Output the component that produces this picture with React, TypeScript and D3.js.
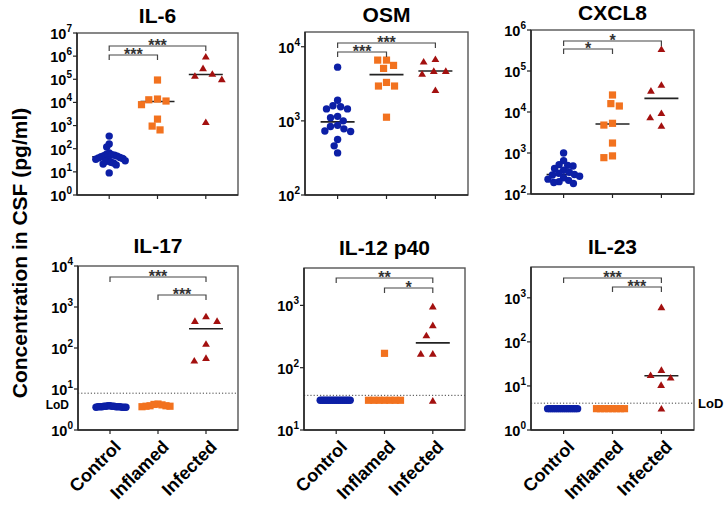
import React from 'react';
import * as d3 from 'd3';

const groups = ['Control', 'Inflamed', 'Infected'];

// IL-6
const il6Control = [350, 160, 120, 65, 58, 55, 52, 50, 48, 45, 42, 40, 38, 35, 33, 30, 28, 26, 24, 22, 20, 9];
const il6Inflamed = [93000, 14000, 13000, 11500, 8000, 1900, 950, 650];
const il6Infected = [950000, 300000, 170000, 140000, 100000, 1400];
const il6Medians = [45, 11000, 160000];
const il6Ticks = [0, 1, 2, 3, 4, 5, 6, 7];
const il6Domain = [1, 1e7];

// OSM
const osmControl = [5300, 1900, 1550, 1450, 1450, 1600, 1150, 1100, 1000, 870, 840, 780, 730, 720, 560, 460, 370];
const osmInflamed = [6600, 6600, 5600, 5100, 3300, 2950, 2950, 1120];
const osmInfected = [6800, 6300, 4700, 4700, 4300, 2600];
const osmMedians = [970, 4200, 4700];
const osmTicks = [2, 3, 4];
const osmDomain = [100, 15800];

// CXCL8
const cxcl8Control = [1000, 650, 520, 500, 480, 420, 380, 340, 320, 300, 290, 270, 250, 230, 215, 200, 190, 180];
const cxcl8Inflamed = [26000, 16000, 14000, 5300, 4800, 1750, 850, 770];
const cxcl8Infected = [340000, 46000, 33000, 9400, 7400, 4600];
const cxcl8Medians = [300, 5100, 21500];
const cxcl8Ticks = [2, 3, 4, 5, 6];
const cxcl8Domain = [100, 1e6];

// IL-17
const il17Control = [3.9, 3.8, 3.7, 3.8, 3.6, 3.7, 3.9, 3.6, 3.7, 3.8, 3.6, 3.7, 3.8, 3.7, 3.6, 3.7];
const il17Inflamed = [4.3, 3.9, 4.1, 3.8, 4.2, 3.7, 3.9, 3.8];
const il17Infected = [590, 455, 455, 126, 57, 49];
const il17Medians = [null, null, 295];
const il17Ticks = [0, 1, 2, 3, 4];
const il17Domain = [1, 1e4];
const il17LoD = 7.9;

// IL-12 p40
const il12Control = [30, 30, 30, 30, 30, 30, 30, 30, 30, 30, 30, 30, 30, 30, 30, 30];
const il12Inflamed = [170, 30, 30, 30, 30, 30, 30, 30];
const il12Infected = [960, 480, 330, 167, 167, 29.5];
const il12Medians = [null, null, 250];
const il12Ticks = [1, 2, 3];
const il12Domain = [10, 3980];
const il12LoD = 36;

// IL-23
const il23Control = [3.05, 3.05, 3.05, 3.05, 3.05, 3.05, 3.05, 3.05, 3.05, 3.05, 3.05, 3.05, 3.05, 3.05, 3.05, 3.05];
const il23Inflamed = [3.05, 3.05, 3.05, 3.05, 3.05, 3.05, 3.05, 3.05];
const il23Infected = [610, 23, 17.5, 15.4, 10.5, 3.05];
const il23Medians = [null, null, 17];
const il23Ticks = [0, 1, 2, 3];
const il23Domain = [1, 5000];
const il23LoD = 4.06;

const colors = ['#0c1fa6', '#f2721f', '#a3100f'];
const FONT = '"Liberation Sans", Arial, Helvetica, sans-serif';

type Bracket = { a: number; b: number; label: string; dy: number };

const panels = [
  { title: 'IL-6', series: [il6Control, il6Inflamed, il6Infected], medians: il6Medians, ticks: il6Ticks, domain: il6Domain,
    box: [77, 33, 238, 195], brackets: [{ a: 0, b: 1, label: '***', dy: 22 }, { a: 0, b: 2, label: '***', dy: 13 }] as Bracket[], lod: null as number | null, lodLabel: '' },
  { title: 'OSM', series: [osmControl, osmInflamed, osmInfected], medians: osmMedians, ticks: osmTicks, domain: osmDomain,
    box: [305, 32, 468, 195], brackets: [{ a: 0, b: 1, label: '***', dy: 20 }, { a: 0, b: 2, label: '***', dy: 11 }], lod: null, lodLabel: '' },
  { title: 'CXCL8', series: [cxcl8Control, cxcl8Inflamed, cxcl8Infected], medians: cxcl8Medians, ticks: cxcl8Ticks, domain: cxcl8Domain,
    box: [531, 30, 694, 194], brackets: [{ a: 0, b: 1, label: '*', dy: 19 }, { a: 0, b: 2, label: '*', dy: 11 }], lod: null, lodLabel: '' },
  { title: 'IL-17', series: [il17Control, il17Inflamed, il17Infected], medians: il17Medians, ticks: il17Ticks, domain: il17Domain,
    box: [78, 266, 238, 430], brackets: [{ a: 0, b: 2, label: '***', dy: 11 }, { a: 1, b: 2, label: '***', dy: 29 }], lod: il17LoD, lodLabel: 'left' },
  { title: 'IL-12 p40', series: [il12Control, il12Inflamed, il12Infected], medians: il12Medians, ticks: il12Ticks, domain: il12Domain,
    box: [304, 268, 465, 430], brackets: [{ a: 0, b: 2, label: '**', dy: 10 }, { a: 1, b: 2, label: '*', dy: 20 }], lod: il12LoD, lodLabel: '' },
  { title: 'IL-23', series: [il23Control, il23Inflamed, il23Infected], medians: il23Medians, ticks: il23Ticks, domain: il23Domain,
    box: [531, 267, 694, 430], brackets: [{ a: 0, b: 2, label: '***', dy: 11 }, { a: 1, b: 2, label: '***', dy: 20 }], lod: il23LoD, lodLabel: 'right' },
];

function swarm(py: number[], d: number, maxHalf: number): number[] {
  const order = py.map((y, i) => ({ y, i })).sort((p, q) => p.y - q.y);
  const placed: { x: number; y: number }[] = [];
  const offs = new Array(py.length).fill(0);
  for (const p of order) {
    const near = placed.filter((q) => Math.abs(q.y - p.y) < d);
    const cands = [0];
    for (const q of near) {
      const dx = Math.sqrt(d * d - (q.y - p.y) ** 2);
      cands.push(q.x + dx + 0.01, q.x - dx - 0.01);
    }
    cands.sort((u, v) => Math.abs(u) - Math.abs(v) || u - v);
    let chosen = 0;
    for (const c of cands) {
      if (near.every((q) => (q.x - c) ** 2 + (q.y - p.y) ** 2 >= d * d - 0.1)) { chosen = c; break; }
    }
    placed.push({ x: chosen, y: p.y });
    offs[p.i] = chosen;
  }
  const m = d3.max(offs, (o) => Math.abs(o)) || 0;
  const k = m > maxHalf ? maxHalf / m : 1;
  return offs.map((o) => o * k);
}

function Marker({ kind, x, y, color }: { kind: number; x: number; y: number; color: string }) {
  if (kind === 0) return <circle cx={x} cy={y} r={3.7} fill={color} />;
  if (kind === 1) return <rect x={x - 3.6} y={y - 3.6} width={7.2} height={7.2} fill={color} />;
  return <path d={`M${x},${y - 3.7}L${x + 3.9},${y + 2.9}L${x - 3.9},${y + 2.9}Z`} fill={color} />;
}

function Panel({ p }: { p: (typeof panels)[number] }) {
  const [x0, y0, x1, y1] = p.box;
  const xs = d3.scalePoint<string>().domain(groups).range([x0, x1]).padding(2 / 3);
  const ys = d3.scaleLog().domain(p.domain).range([y1, y0]);
  const dia = [7.2, 8.8, 12];
  return (
    <g fontFamily={FONT}>
      <text x={(x0 + x1) / 2} y={y0 - 12 + (p.box[1] > 200 ? -1 : 2)} textAnchor="middle" fontSize={21} fontWeight="bold" fill="#000">{p.title}</text>
      {p.lod != null && (
        <line x1={x0} x2={x1} y1={ys(p.lod)} y2={ys(p.lod)} stroke="#444" strokeWidth={1} strokeDasharray="1.2,2" />
      )}
      {p.lodLabel === 'left' && p.lod != null && (
        <text x={x0 - 9} y={ys(p.lod) + 12} textAnchor="end" dominantBaseline="central" fontSize={12} fontWeight="bold">LoD</text>
      )}
      {p.lodLabel === 'right' && p.lod != null && (
        <text x={x1 + 4} y={ys(p.lod)} dominantBaseline="central" fontSize={13} fontWeight="bold">LoD</text>
      )}
      {p.medians.map((m, gi) => m == null ? null : (
        <line key={'m' + gi} x1={xs(groups[gi])! - 17} x2={xs(groups[gi])! + 17} y1={ys(m)} y2={ys(m)} stroke="#222" strokeWidth={1.6} />
      ))}
      {p.series.map((vals, gi) => {
        const py = vals.map((v) => ys(v));
        const offs = swarm(py, dia[gi], 16);
        const cx = xs(groups[gi])!;
        return vals.map((v, i) => <Marker key={gi + '-' + i} kind={gi} x={cx + offs[i]} y={py[i]} color={colors[gi]} />);
      })}
      <rect x={x0} y={y0} width={x1 - x0} height={y1 - y0} fill="none" stroke="#555" strokeWidth={1.4} />
      <line x1={x0} x2={x0} y1={y0} y2={y1} stroke="#222" strokeWidth={1.5} />
      <line x1={x0} x2={x1} y1={y1} y2={y1} stroke="#222" strokeWidth={1.5} />
      {p.ticks.map((e) => {
        const ty = ys(Math.pow(10, e));
        return (
          <g key={'t' + e}>
            <line x1={x0 - 4} x2={x0} y1={ty} y2={ty} stroke="#222" strokeWidth={1.2} />
            <text x={x0 - 5} y={ty + 1} textAnchor="end" dominantBaseline="central" fontSize={14.5} fontWeight="bold">
              10<tspan dy={-6} fontSize={10}>{e}</tspan>
            </text>
          </g>
        );
      })}
      {groups.map((g) => (
        <line key={'x' + g} x1={xs(g)} x2={xs(g)} y1={y1} y2={y1 + 4} stroke="#222" strokeWidth={1.2} />
      ))}
      {p.brackets.map((b, bi) => {
        const xa = xs(groups[b.a])!;
        const xb = xs(groups[b.b])!;
        const by = y0 + b.dy;
        return (
          <g key={'b' + bi}>
            <path d={`M${xa},${by + 5}V${by}H${xb}V${by + 5}`} fill="none" stroke="#444" strokeWidth={1.2} />
            <text x={(xa + xb) / 2} y={by + 5} textAnchor="middle" fontSize={16} fontWeight="bold" fill="#333">{b.label}</text>
          </g>
        );
      })}
      {p.box[1] > 200 && groups.map((g) => (
        <text key={'l' + g} transform={`translate(${xs(g)! + 12},${y1 + 18}) rotate(-45)`} textAnchor="end" fontSize={18} fontWeight="bold">{g}</text>
      ))}
    </g>
  );
}

export default function App() {
  return (
    <svg width={724} height={510} style={{ position: 'absolute', left: 0, top: 0, background: '#fff' }}>
      <rect width={724} height={510} fill="#fff" />
      {panels.map((p) => <Panel key={p.title} p={p} />)}
      <text transform="translate(27,253) rotate(-90)" textAnchor="middle" fontFamily={FONT} fontSize={21} fontWeight="bold">
        Concentration in  CSF (pg/ml)
      </text>
    </svg>
  );
}
